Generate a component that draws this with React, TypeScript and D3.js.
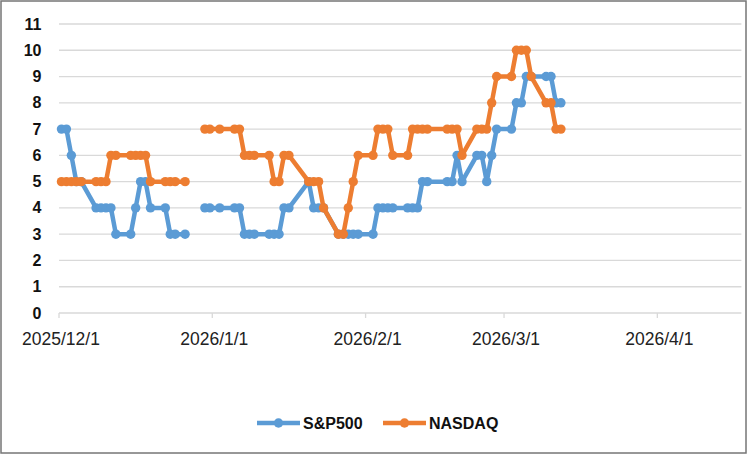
import * as d3 from "d3";

const W = 748;
const H = 455;

// trading days shown in the chart (null = no value, line breaks)
const dates = [
  "2025-12-01", "2025-12-02", "2025-12-03", "2025-12-04", "2025-12-05",
  "2025-12-08", "2025-12-09", "2025-12-10", "2025-12-11", "2025-12-12",
  "2025-12-15", "2025-12-16", "2025-12-17", "2025-12-18", "2025-12-19",
  "2025-12-22", "2025-12-23", "2025-12-24", "2025-12-26",
  "2025-12-29", "2025-12-30", "2025-12-31", "2026-01-02",
  "2026-01-05", "2026-01-06", "2026-01-07", "2026-01-08", "2026-01-09",
  "2026-01-12", "2026-01-13", "2026-01-14", "2026-01-15", "2026-01-16",
  "2026-01-20", "2026-01-21", "2026-01-22", "2026-01-23",
  "2026-01-26", "2026-01-27", "2026-01-28", "2026-01-29", "2026-01-30",
  "2026-02-02", "2026-02-03", "2026-02-04", "2026-02-05", "2026-02-06",
  "2026-02-09", "2026-02-10", "2026-02-11", "2026-02-12", "2026-02-13",
  "2026-02-17", "2026-02-18", "2026-02-19", "2026-02-20",
  "2026-02-23", "2026-02-24", "2026-02-25", "2026-02-26", "2026-02-27",
  "2026-03-02", "2026-03-03", "2026-03-04", "2026-03-05", "2026-03-06",
  "2026-03-09", "2026-03-10", "2026-03-11", "2026-03-12",
];

const sp500: (number | null)[] = [
  7, 7, 6, 5, 5,
  4, 4, 4, 4, 3,
  3, 4, 5, 5, 4,
  4, 3, 3, 3,
  null, 4, 4, 4,
  4, 4, 3, 3, 3,
  3, 3, 3, 4, 4,
  5, 4, 4, 4,
  3, 3, 3, 3, 3,
  3, 4, 4, 4, 4,
  4, 4, 4, 5, 5,
  5, 5, 6, 5,
  6, 6, 5, 6, 7,
  7, 8, 8, 9, 9,
  9, 9, 8, 8,
];

const nasdaq: (number | null)[] = [
  5, 5, 5, 5, 5,
  5, 5, 5, 6, 6,
  6, 6, 6, 6, 5,
  5, 5, 5, 5,
  null, 7, 7, 7,
  7, 7, 6, 6, 6,
  6, 5, 5, 6, 6,
  5, 5, 5, 4,
  3, 3, 4, 5, 6,
  6, 7, 7, 7, 6,
  6, 7, 7, 7, 7,
  7, 7, 7, 6,
  7, 7, 7, 8, 9,
  9, 10, 10, 10, 9,
  8, 8, 7, 7,
];

const xTicks = ["2025-12-01", "2026-01-01", "2026-02-01", "2026-03-01", "2026-04-01"];
const yTicks = d3.range(0, 12);

const series = [
  { name: "S&P500", values: sp500, color: "#5B9BD5" },
  { name: "NASDAQ", values: nasdaq, color: "#ED7D31" },
];

const parse = d3.utcParse("%Y-%m-%d");
const fmt = d3.utcFormat("%Y/%-m/%-d");
const FONT = "'Liberation Sans', Arial, sans-serif";

export default function App() {
  const x = d3
    .scaleUtc()
    .domain([parse("2025-12-01")!, parse("2026-04-18")!])
    .range([59, 741.4]);
  const y = d3.scaleLinear().domain([0, 11]).range([313, 24]);
  const xLeft = x.range()[0];
  const xRight = x.range()[1];

  // points sit in the middle of their day slot
  const days = dates.map((d) => d3.utcHour.offset(parse(d)!, 12));

  const line = d3
    .line<number | null>()
    .defined((v) => v !== null)
    .x((_, i) => x(days[i]))
    .y((v) => y(v as number));

  return (
    <svg
      width={W}
      height={H}
      style={{ position: "absolute", left: 0, top: 0, background: "#fff" }}
      fontFamily={FONT}
    >
      <rect x={0} y={0} width={W} height={H} fill="#fff" />
      <rect x={1} y={1} width={W - 3} height={H - 3} fill="none" stroke="#767676" strokeWidth={1.5} />

      {/* gridlines + y labels */}
      {yTicks.map((t) => (
        <g key={t}>
          <line x1={xLeft} x2={xRight} y1={y(t)} y2={y(t)} stroke="#d9d9d9" strokeWidth={1.3} />
          <text
            x={41.5}
            y={y(t)}
            textAnchor="end"
            dominantBaseline="central"
            fontSize={16}
            fontWeight="bold"
            fill="#111"
          >
            {t}
          </text>
        </g>
      ))}

      {/* x ticks + labels */}
      {xTicks.map((d) => {
        const px = x(parse(d)!);
        return (
          <g key={d}>
            <line x1={px} x2={px} y1={y(0)} y2={y(0) + 5} stroke="#d9d9d9" strokeWidth={1.3} />
            <text x={px + 2} y={339} textAnchor="middle" dominantBaseline="central" fontSize={17.5} fill="#222">
              {fmt(parse(d)!)}
            </text>
          </g>
        );
      })}

      {/* series */}
      {series.map((s) => (
        <g key={s.name}>
          <path
            d={line(s.values) ?? undefined}
            fill="none"
            stroke={s.color}
            strokeWidth={4.5}
            strokeLinejoin="round"
          />
          {s.values.map((v, i) =>
            v === null ? null : (
              <circle key={i} cx={x(days[i])} cy={y(v)} r={4.7} fill={s.color} />
            )
          )}
        </g>
      ))}

      {/* legend */}
      {series.map((s, i) => {
        const lx = i === 0 ? 257 : 383;
        return (
          <g key={s.name} transform={`translate(${lx}, 423)`}>
            <line x1={0} x2={43} y1={0} y2={0} stroke={s.color} strokeWidth={4.5} />
            <circle cx={21.5} cy={0} r={4.7} fill={s.color} />
            <text x={46} y={0} dominantBaseline="central" fontSize={16} fontWeight="bold" fill="#111">
              {s.name}
            </text>
          </g>
        );
      })}
    </svg>
  );
}
